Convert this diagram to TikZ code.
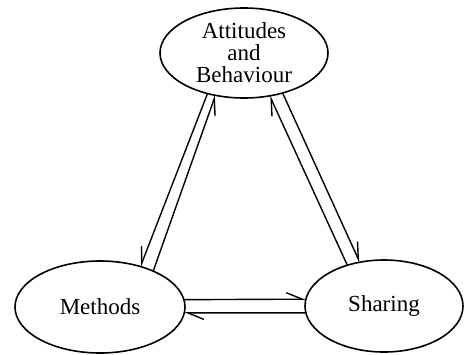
\documentclass[tikz,border=0pt]{standalone}
\usepackage{fontspec}
\setmainfont{Liberation Serif}
\usetikzlibrary{shapes.geometric,arrows.meta}
\begin{document}
\begin{tikzpicture}[x=1pt,y=1pt,
  blob/.style={draw, ellipse, line width=1.6pt, inner sep=0pt, outer sep=0pt,
    font=\fontsize{23}{22}\selectfont, align=center},
  link/.style={line width=1.4pt},
  hl/.style={link, -{Straight Barb[left,length=16pt,width=13pt]}},
  hr/.style={link, -{Straight Barb[right,length=16pt,width=13pt]}}]
\useasboundingbox (0,0) rectangle (465,354);
\node[blob, minimum width=168pt, minimum height=90pt] (att) at (244,301) {Attitudes\\and\\Behaviour};
\node[blob, minimum width=170pt, minimum height=92pt] (meth) at (100,47) {Methods};
\node[blob, minimum width=158pt, minimum height=92pt] (shar) at (384,48) {Sharing};
% left pair
\draw[hr] (att.228.5) -- (meth.45);
\draw[hr] (meth.34.4) -- (att.236.3);
% right pair
\draw[hl] (shar.132.2) -- (att.301.7);
\draw[hl] (att.314.3) -- (shar.119.2);
% bottom pair
\draw[hl] (meth.5.4) -- (shar.175);
\draw[hl] (shar.185) -- (meth.356.6);
\end{tikzpicture}
\end{document}
